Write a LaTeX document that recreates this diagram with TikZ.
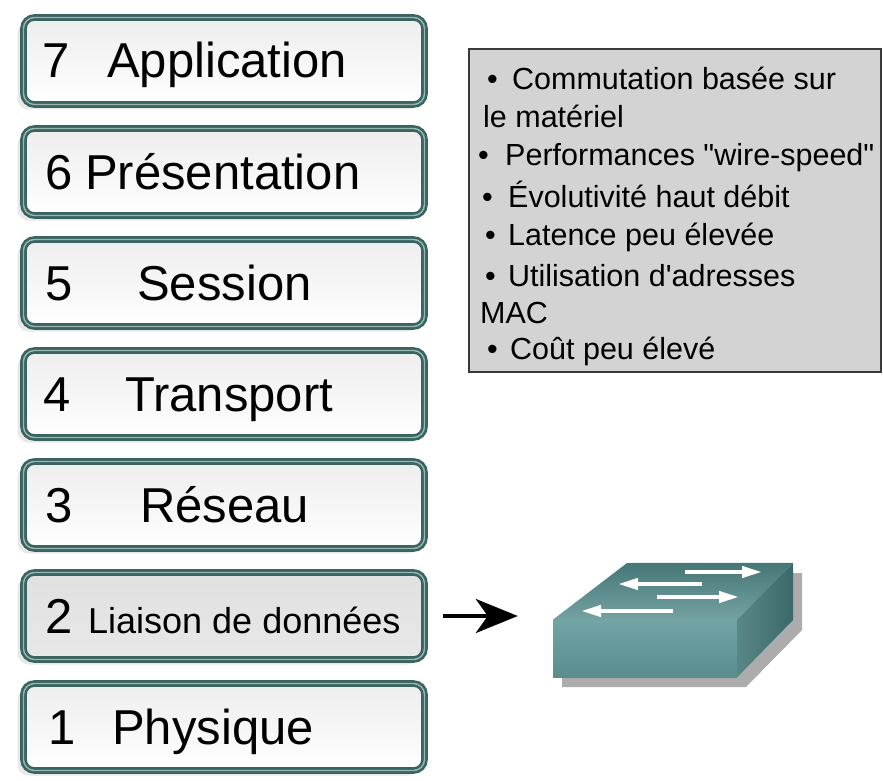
\documentclass[tikz,border=0pt]{standalone}
\usepackage{fontspec}
\newfontfamily\osifont{Liberation Sans}
\usepackage{tikz}
\usetikzlibrary{arrows.meta,positioning,shadows}

\definecolor{layerrim}{RGB}{58,100,97}
\definecolor{layerlight}{RGB}{150,182,178}
\definecolor{infogray}{RGB}{211,211,211}
\definecolor{swfrontc}{RGB}{98,154,154}
\definecolor{swtopc}{RGB}{82,139,139}
\definecolor{swsidec}{RGB}{70,122,122}
\definecolor{swshadow}{RGB}{172,172,172}

\begin{document}
\begin{tikzpicture}[x=1pt, y=-1pt, font=\osifont,
  layer/.style={draw=layerrim, line width=2.6pt, double=layerlight, double distance=1.4pt,
    rounded corners=11pt, minimum width=401pt, minimum height=87pt, inner sep=0pt,
    top color=gray!14, bottom color=white,
    drop shadow={shadow xshift=-6pt, shadow yshift=-5pt, fill=gray!40, opacity=.45}},
  datalayer/.style={layer, top color=gray!24, bottom color=gray!18},
  infobox/.style={draw=gray!45!black, line width=1.6pt, fill=infogray,
    minimum width=412pt, minimum height=323pt, inner sep=0pt},
  infotext/.style={anchor=base west, inner sep=0pt, font=\osifont\fontsize{30.5}{30.5}\selectfont},
  swface/.style={draw=none},
  arr/.style={-{Stealth[length=42pt, width=34pt, inset=12pt]}, line width=4pt},
  swarr/.style={-{Triangle[length=20pt, width=11pt]}, white, line width=4pt}]

\useasboundingbox (0,0) rectangle (883,781);

% the seven layers, bottom one first in the stack order
\foreach \n/\name/\nx/\tx/\fsz/\kind in {7/Application/42/107/49/layer,
    6/Présentation/45/85/49/layer, 5/Session/45/137/49/layer,
    4/Transport/43/125/49/layer, 3/Réseau/45/140/49/layer,
    2/Liaison de données/45/88/36/datalayer, 1/Physique/48/112/49/layer} {
  \pgfmathsetmacro\cy{61+111*(7-\n)}
  \node[\kind] (l\n) at (224,\cy) {};
  \node[anchor=base west, inner sep=0pt, font=\osifont\fontsize{49}{49}\selectfont]
    (l\n num) at (\nx,\cy+17) {\n};
  \node[anchor=base west, inner sep=0pt, font=\osifont\fontsize{\fsz}{\fsz}\selectfont]
    (l\n name) at (\tx,\cy+17) {\name};
}

% switch features
\node[infobox] (feat) at (675,210.5) {};
\node[infotext] (f1) at (512,90)  {\llap{\makebox[25pt][l]{•}}Commutation basée sur};
\node[infotext] (f2) at (483,128) {le matériel};
\node[infotext] (f3) at (505,165) {\llap{\makebox[27pt][l]{•}}Performances "wire-speed"};
\node[infotext] (f4) at (508,207) {\llap{\makebox[26pt][l]{•}}Évolutivité haut débit};
\node[infotext] (f5) at (508,245) {\llap{\makebox[23pt][l]{•}}Latence peu élevée};
\node[infotext] (f6) at (508,286) {\llap{\makebox[23pt][l]{•}}Utilisation d'adresses};
\node[infotext] (f7) at (480,323) {MAC};
\node[infotext] (f8) at (510,359) {\llap{\makebox[23pt][l]{•}}Coût peu élevé};

% switch icon
\fill[swshadow] (562,630) -- (636,573) -- (802,573) -- (802,630) -- (746,687) -- (562,687) -- cycle;
\node[swface, minimum width=184pt, minimum height=57pt, inner sep=0pt,
  top color=swfrontc!90!white, bottom color=swfrontc!92!black] (sw) at (645,648.5) {};
\shade[top color=swtopc!85!black, bottom color=swtopc!80!white]
  (sw.north west) -- (sw.north east) -- ++(56,-57) -- (627,563) -- cycle;
\shade[left color=swsidec!90!white, right color=swsidec!85!black]
  (sw.north east) -- ++(56,-57) -- ++(0,57) -- (sw.south east) -- cycle;
\draw[swarr] (685,572) -- (762,572);
\draw[swarr] (702,584) -- (618,584);
\draw[swarr] (657,597) -- (739,597);
\draw[swarr] (673,611) -- (581,611);

\draw[arr, shorten <=17pt, shorten >=35pt] (l2.east) -- (l2.east -| sw.west);
\end{tikzpicture}
\end{document}
